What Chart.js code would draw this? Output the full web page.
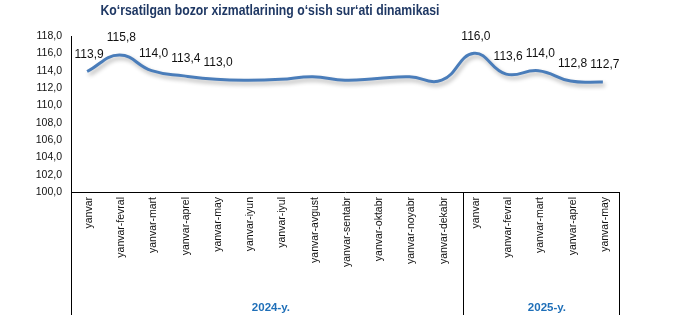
<!DOCTYPE html>
<html>
<head>
<meta charset="utf-8">
<script src="https://cdn.jsdelivr.net/npm/chart.js@4/dist/chart.umd.min.js"></script>
<style>
  body { margin: 0; background: #fff; }
  #wrap { width: 679px; height: 323px; }
</style>
</head>
<body>
<div id="wrap"><canvas id="myChart" width="679" height="323"></canvas></div>
<script>
const chartTitle = 'Ko‘rsatilgan bozor xizmatlarining o‘sish sur‘ati dinamikasi'

const months2024 = ['yanvar', 'yanvar-fevral', 'yanvar-mart', 'yanvar-aprel', 'yanvar-may', 'yanvar-iyun',
  'yanvar-iyul', 'yanvar-avgust', 'yanvar-sentabr', 'yanvar-oktabr', 'yanvar-noyabr', 'yanvar-dekabr']
const months2025 = ['yanvar', 'yanvar-fevral', 'yanvar-mart', 'yanvar-aprel', 'yanvar-may']
const years = ['2024-y.', '2025-y.']

const values2024 = [113.9, 115.8, 114.0, 113.4, 113.0, 112.9, 113.0, 113.3, 112.9, 113.1, 113.3, 112.9]
const values2025 = [116.0, 113.6, 114.0, 112.8, 112.7]
// which points get a value label
const labelled2024 = [true, true, true, true, true, false, false, false, false, false, false, false]
const labelled2025 = [true, true, true, true, true]

const yTicks = [100, 102, 104, 106, 108, 110, 112, 114, 116, 118]

const labels = months2024.concat(months2025)
const values = values2024.concat(values2025)
const labelled = labelled2024.concat(labelled2025)

const fmt = v => v.toFixed(1).replace('.', ',')

// soft shadow under the line
const lineShadow = {
  id: 'lineShadow',
  beforeDatasetDraw(chart) {
    const ctx = chart.ctx
    ctx.save()
    ctx.shadowColor = 'rgba(0,0,0,0.3)'
    ctx.shadowBlur = 4
    ctx.shadowOffsetX = 2
    ctx.shadowOffsetY = 3
  },
  afterDatasetDraw(chart) {
    chart.ctx.restore()
  }
}

const valueLabels = {
  id: 'valueLabels',
  afterDatasetsDraw(chart) {
    const ctx = chart.ctx
    const meta = chart.getDatasetMeta(0)
    ctx.save()
    ctx.font = '12px "Liberation Sans", Arial, sans-serif'
    ctx.fillStyle = '#111'
    ctx.textAlign = 'center'
    ctx.textBaseline = 'middle'
    meta.data.forEach((pt, i) => {
      if (!labelled[i]) return
      ctx.fillText(fmt(values[i]), pt.x + 2, pt.y - 17)
    })
    ctx.restore()
  }
}

// title, group frame lines and year captions under the category axis
const decorations = {
  id: 'decorations',
  afterDraw(chart) {
    const ctx = chart.ctx
    const x = chart.scales.x
    const area = chart.chartArea
    const bottom = x.bottom
    // group divider sits a little right of the category boundary
    const split = (x.getPixelForValue(months2024.length - 1) + x.getPixelForValue(months2024.length)) / 2 + 5

    ctx.save()
    ctx.strokeStyle = '#000'
    ctx.lineWidth = 1
    ctx.beginPath()
    for (const px of [area.left, split, area.right]) {
      ctx.moveTo(Math.round(px) + 0.5, area.bottom)
      ctx.lineTo(Math.round(px) + 0.5, bottom)
    }
    ctx.stroke()

    ctx.font = 'bold 11.5px "Liberation Sans", Arial, sans-serif'
    ctx.fillStyle = '#1F6FB8'
    ctx.textAlign = 'center'
    ctx.textBaseline = 'middle'
    ctx.fillText(years[0], (area.left + split) / 2 + 4, bottom - 7)
    ctx.fillText(years[1], (split + area.right) / 2 + 6, bottom - 7)

    // the title is set in a narrow face: squeeze it horizontally
    ctx.font = 'bold 15px "Liberation Sans", Arial, sans-serif'
    ctx.fillStyle = '#1F3864'
    const w = ctx.measureText(chartTitle).width
    const sx = 339 / w
    ctx.translate(270, 11)
    ctx.scale(sx, 1)
    ctx.fillText(chartTitle, 0, 0)
    ctx.restore()
  }
}

const ctx = document.getElementById('myChart').getContext('2d')
const myChart = new Chart(ctx, {
  type: 'line',
  data: {
    labels: labels,
    datasets: [{
      data: values,
      borderColor: '#4A7DBA',
      borderWidth: 3,
      tension: 0.45,
      pointRadius: 0,
      pointHoverRadius: 0,
      fill: false
    }]
  },
  options: {
    responsive: false,
    animation: false,
    devicePixelRatio: 1,
    layout: {
      padding: { top: 36, right: 60, bottom: 8, left: 0 }
    },
    plugins: {
      legend: { display: false },
      tooltip: { enabled: false }
    },
    scales: {
      y: {
        min: yTicks[0],
        max: yTicks[yTicks.length - 1],
        afterFit(scale) { scale.width = 71 },
        afterBuildTicks(scale) { scale.ticks = yTicks.map(v => ({ value: v })) },
        grid: { display: false, drawTicks: false },
        border: { display: true, color: '#000', width: 1 },
        ticks: {
          padding: 9,
          color: '#111',
          font: { family: '"Liberation Sans", Arial, sans-serif', size: 10.5 },
          callback: v => fmt(v)
        }
      },
      x: {
        offset: true,
        afterFit(scale) { scale.height = 123 },
        grid: { display: false, drawTicks: false, offset: true },
        border: { display: true, color: '#000', width: 1 },
        ticks: {
          autoSkip: false,
          minRotation: 90,
          maxRotation: 90,
          padding: 5,
          labelOffset: 2,
          color: '#111',
          font: { family: '"Liberation Sans", Arial, sans-serif', size: 10.5 }
        }
      }
    }
  },
  plugins: [lineShadow, valueLabels, decorations]
})
</script>
</body>
</html>
